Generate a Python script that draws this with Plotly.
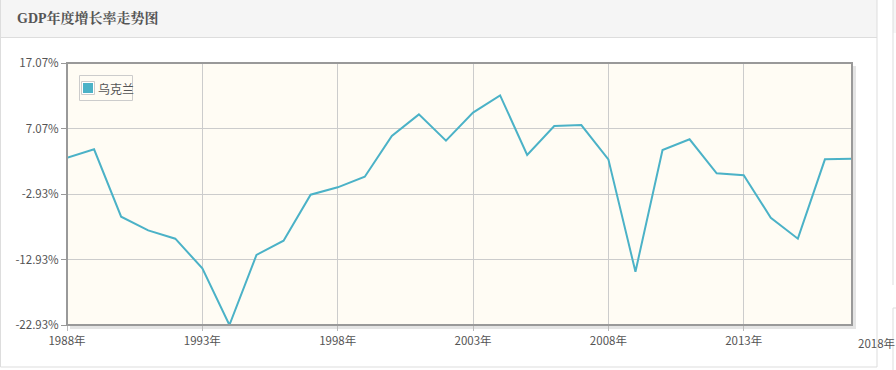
import plotly.graph_objects as go

title_text = "GDP年度增长率走势图"
series_name = "乌克兰"
years = list(range(1988, 2018))
growth = [2.61, 3.89, -6.40, -8.48, -9.75, -14.28, -22.93, -12.24, -10.06, -3.03,
          -1.91, -0.29, 5.92, 9.23, 5.21, 9.49, 12.13, 3.02, 7.45, 7.60,
          2.36, -14.79, 3.79, 5.42, 0.23, -0.08, -6.55, -9.75, 2.36, 2.46]
x_tick_years = [1988, 1993, 1998, 2003, 2008, 2013, 2018]
y_ticks = [-22.93, -12.93, -2.93, 7.07, 17.07]

W, H = 896, 370
L, R, T, B = 67, 852, 63, 325  # plot area in pixels
pw, ph = R - L, B - T


def px(x):
    return (x - L) / pw


def py(y):
    return (B - y) / ph


LINE = "#4bb2c7"
TXT = "#545454"
FONT = "Noto Sans CJK SC, Noto Sans, sans-serif"
FS = 11.5

fig = go.Figure()
fig.add_trace(go.Scatter(x=years, y=growth, mode="lines",
                         line=dict(color=LINE, width=2), showlegend=False,
                         hoverinfo="skip"))

in_range = [y for y in x_tick_years if y <= years[-1]]
out_range = [y for y in x_tick_years if y > years[-1]]

shapes = [
    # header band
    dict(type="rect", xref="paper", yref="paper", x0=px(0.5), x1=px(877), y0=py(37), y1=py(-2),
         fillcolor="#f5f5f5", line=dict(width=0), layer="below"),
    # panel border
    dict(type="rect", xref="paper", yref="paper", x0=px(0.5), x1=px(877), y0=py(367), y1=py(-2),
         fillcolor="rgba(0,0,0,0)", line=dict(color="#dddddd", width=1), layer="below"),
    dict(type="line", xref="paper", yref="paper", x0=px(0.5), x1=px(877), y0=py(37.5), y1=py(37.5),
         line=dict(color="#dddddd", width=1), layer="below"),
    # neighbouring panel edges
    dict(type="rect", xref="paper", yref="paper", x0=px(893), x1=px(900), y0=py(33), y1=py(-2),
         fillcolor="#f5f5f5", line=dict(width=0), layer="below"),
    dict(type="line", xref="paper", yref="paper", x0=px(893), x1=px(893), y0=py(285), y1=py(-2),
         line=dict(color="#dddddd", width=1), layer="below"),
    dict(type="line", xref="paper", yref="paper", x0=px(893), x1=px(893), y0=py(375), y1=py(308),
         line=dict(color="#dddddd", width=1), layer="below"),
    dict(type="line", xref="paper", yref="paper", x0=px(893), x1=px(900), y0=py(308), y1=py(308),
         line=dict(color="#dddddd", width=1), layer="below"),
    # shadow
    dict(type="rect", xref="paper", yref="paper", x0=px(L + 3), x1=px(R + 4), y0=py(B + 4), y1=py(T + 3),
         fillcolor="#e4e4e4", line=dict(width=0), layer="below"),
    # plot background
    dict(type="rect", xref="paper", yref="paper", x0=0, x1=1, y0=0, y1=1,
         fillcolor="#fffcf4", line=dict(width=0), layer="below"),
    # frame
    dict(type="rect", xref="paper", yref="paper", x0=0, x1=1, y0=0, y1=1,
         fillcolor="rgba(0,0,0,0)", line=dict(color="#999999", width=2), layer="above"),
    # legend box
    dict(type="rect", xref="paper", yref="paper", x0=px(79.5), x1=px(132.5), y0=py(100.5), y1=py(75.5),
         fillcolor="rgba(0,0,0,0)", line=dict(color="#cccccc", width=1), layer="above"),
    # legend swatch
    dict(type="rect", xref="paper", yref="paper", x0=px(81.5), x1=px(94.5), y0=py(94.5), y1=py(81.5),
         fillcolor="#ffffff", line=dict(color="#cccccc", width=1), layer="above"),
    dict(type="rect", xref="paper", yref="paper", x0=px(83), x1=px(93), y0=py(93), y1=py(83),
         fillcolor=LINE, line=dict(width=0), layer="above"),
]

annotations = [
    dict(text="<b>" + title_text + "</b>", xref="paper", yref="paper", x=px(15), y=py(18),
         xanchor="left", yanchor="middle", showarrow=False,
         font=dict(family="Liberation Serif, Noto Serif CJK SC, Noto Sans CJK SC, serif",
                   size=14, color="#555555")),
    dict(text=series_name, xref="paper", yref="paper", x=px(95.5), y=py(88),
         xanchor="left", yanchor="middle", showarrow=False,
         font=dict(family=FONT, size=12, color=TXT)),
]
for y in out_range:
    annotations.append(dict(text=f"{y}年", xref="paper", yref="paper",
                            x=(y - years[0]) / (years[-1] - years[0]), y=py(343),
                            xanchor="center", yanchor="middle", showarrow=False, xshift=-3,
                            font=dict(family=FONT, size=FS, color=TXT)))

fig.update_layout(
    width=W, height=H,
    margin=dict(l=L, r=W - R, t=T, b=H - B, pad=0),
    paper_bgcolor="white", plot_bgcolor="rgba(0,0,0,0)",
    font=dict(family=FONT, size=FS, color=TXT),
    shapes=shapes, annotations=annotations,
    showlegend=False,
    xaxis=dict(range=[years[0], years[-1]], tickmode="array", tickvals=in_range,
               ticktext=[f"{y}年" for y in in_range],
               showgrid=True, gridcolor="#cccccc", gridwidth=1,
               ticks="outside", ticklen=5, tickcolor="#bbbbbb",
               showline=False, zeroline=False, fixedrange=True,
               tickfont=dict(family=FONT, size=FS, color=TXT)),
    yaxis=dict(range=[y_ticks[0], y_ticks[-1]], tickmode="array", tickvals=y_ticks,
               ticktext=[f"{v:.2f}%" for v in y_ticks],
               showgrid=True, gridcolor="#cccccc", gridwidth=1,
               ticks="outside", ticklen=5, tickcolor="#999999",
               showline=False, zeroline=False, fixedrange=True,
               tickfont=dict(family=FONT, size=FS, color=TXT)),
)

fig.write_html("out.html", config=dict(displayModeBar=False),
               post_script="document.body.style.margin='0';document.body.style.overflow='hidden';")
